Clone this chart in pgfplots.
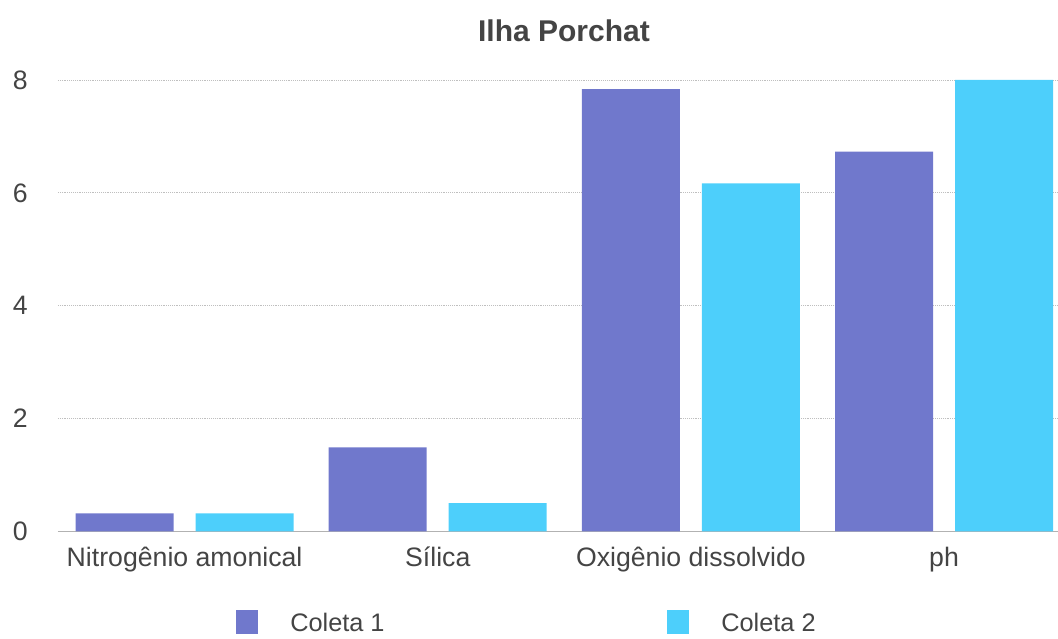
\documentclass[border=0pt]{standalone}
\usepackage{pgfplots}
\pgfplotsset{compat=1.18}
\usepackage{fontspec}
\setmainfont{Liberation Sans}
\definecolor{cA}{RGB}{112,120,204}
\definecolor{cB}{RGB}{77,207,251}
\definecolor{txt}{RGB}{68,68,68}
\begin{document}
\begin{tikzpicture}
\begin{axis}[
  at={(0,0)}, anchor=south west,
  scale only axis,
  width=750pt, height=338.6pt,
  xmin=-0.5, xmax=3.45,
  ymin=0, ymax=8,
  ybar=16.5pt, bar width=73.5pt,
  axis lines*=left,
  y axis line style={draw=none},
  x axis line style={-, draw=gray!60, line width=0.8pt},
  xtick={0,1,2,3},
  xticklabels={Nitrogênio amonical, Sílica, Oxigênio dissolvido, ph},
  ytick={0,2,4,6,8},
  major tick length=0pt,
  ymajorgrids,
  grid style={densely dotted, gray!50, line width=0.6pt},
  xticklabel style={font=\fontsize{20}{24}\selectfont, text=txt, anchor=base, inner sep=0pt, yshift=-26.6pt},
  yticklabel style={font=\fontsize{20}{24}\selectfont, text=txt, anchor=east, inner sep=0pt, xshift=-22.5pt},
  /pgf/number format/assume math mode=true,
  title={Ilha Porchat},
  title style={at={(0.506,1)}, anchor=base, yshift=23pt, font=\bfseries\fontsize{22.5}{27}\selectfont, text=txt},
  legend columns=2,
  legend style={at={(0.178,-0.200)}, anchor=west, draw=none, fill=none, inner sep=0pt,
    font=\fontsize{19}{23}\selectfont, text=txt,
    nodes={inner sep=0pt},
    /tikz/every odd column/.append style={column sep=24pt},
    /tikz/every even column/.append style={column sep=212pt}},
  legend image code/.code={\fill[#1] (0pt,-8pt) rectangle (16.5pt,10pt);},
]
\addplot[fill=cA, draw=none] coordinates {(0,0.32) (1,1.49) (2,7.84) (3,6.73)};
\addlegendentry{Coleta 1}
\addplot[fill=cB, draw=none] coordinates {(0,0.32) (1,0.50) (2,6.17) (3,8.00)};
\addlegendentry{Coleta 2}
\end{axis}
\pgfresetboundingbox
\useasboundingbox (-43.5pt,-80.6pt) rectangle (750pt,398.6pt);
\end{tikzpicture}
\end{document}
